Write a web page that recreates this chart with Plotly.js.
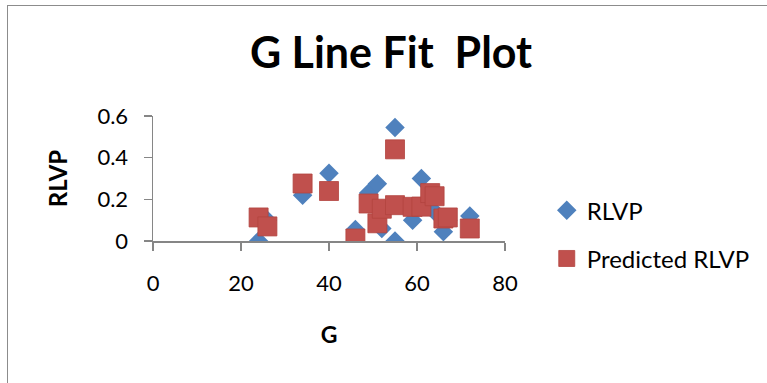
<!DOCTYPE html>
<html>
<head>
<meta charset="utf-8">
<script src="https://cdn.plot.ly/plotly-3.0.1.min.js"></script>
<style>
html,body{margin:0;padding:0;background:#fff;}
#chart{width:767px;height:383px;}
#frame{position:absolute;left:7px;top:5px;width:800px;height:400px;border-left:1.5px solid #8c8c8c;border-top:1.5px solid #8c8c8c;pointer-events:none;}
</style>
</head>
<body>
<div id="chart"></div>
<div id="frame"></div>
<script>
const G = [24, 26, 34, 40, 46, 49, 51, 52, 55, 55, 59, 61, 63, 64, 66, 67, 72];
const RLVP = [0.0, 0.10, 0.22, 0.325, 0.055, 0.23, 0.275, 0.06, 0.545, 0.0, 0.10, 0.30, 0.20, 0.14, 0.045, 0.10, 0.12];
const PRED = [0.113, 0.07, 0.276, 0.24, 0.012, 0.18, 0.085, 0.155, 0.44, 0.172, 0.164, 0.165, 0.23, 0.215, 0.108, 0.113, 0.06];
const xTicks = [0, 20, 40, 60, 80];
const yTicks = [0, 0.2, 0.4, 0.6];
const xTickText = ['0', '20', '40', '60', '80'];
const yTickText = ['0', '0.2', '0.4', '0.6'];

const font = 'Lato, "Open Sans", sans-serif';
const axisColor = '#868686';

const traces = [
  {x: G, y: RLVP, name: 'RLVP', type: 'scatter', mode: 'markers', legendgroup: 'a',
   marker: {symbol: 'diamond', size: 15, color: '#4F81BD'}},
  {x: G, y: PRED, name: 'Predicted RLVP', type: 'scatter', mode: 'markers', legendgroup: 'b',
   marker: {symbol: 'square', size: 19, color: '#C0504D', line: {width: 0.8, color: '#b3443f'}}}
];

const layout = {
  width: 767, height: 383,
  margin: {l: 153, r: 260, t: 116, b: 142},
  paper_bgcolor: '#fff', plot_bgcolor: '#fff',
  font: {family: font, size: 22, color: '#000'},
  title: {text: '<b>G Line Fit  Plot</b>', font: {family: font, size: 43, color: '#000'},
          x: 391/767, xanchor: 'center', y: 1 - 53/383, yanchor: 'middle'},
  xaxis: {range: [0, 80], tickvals: xTicks, ticktext: xTickText, showgrid: false, zeroline: false,
          showline: true, linecolor: axisColor, linewidth: 1.5, ticks: 'outside', ticklen: 8,
          tickcolor: axisColor, tickwidth: 1.5, tickfont: {family: font, size: 22},
          ticklabelstandoff: 14,
          title: {text: '<b>G</b>', font: {family: font, size: 23}, standoff: 32}},
  yaxis: {range: [0, 0.6], tickvals: yTicks, ticktext: yTickText, showgrid: false, zeroline: false,
          showline: true, linecolor: axisColor, linewidth: 1.5, ticks: 'outside', ticklen: 8,
          tickcolor: axisColor, tickwidth: 1.5, tickfont: {family: font, size: 22},
          ticklabelstandoff: 11,
          title: {text: '<b>RLVP</b>', font: {family: font, size: 24}, standoff: 23}},
  showlegend: true,
  legend: {x: (549 - 153) / 354, xanchor: 'left', y: (240.7 - 188) / 124.7, yanchor: 'top',
           font: {family: font, size: 24}, tracegroupgap: 14, bgcolor: 'rgba(0,0,0,0)'}
};

Plotly.newPlot('chart', traces, layout, {displayModeBar: false, staticPlot: true});
</script>
</body>
</html>
